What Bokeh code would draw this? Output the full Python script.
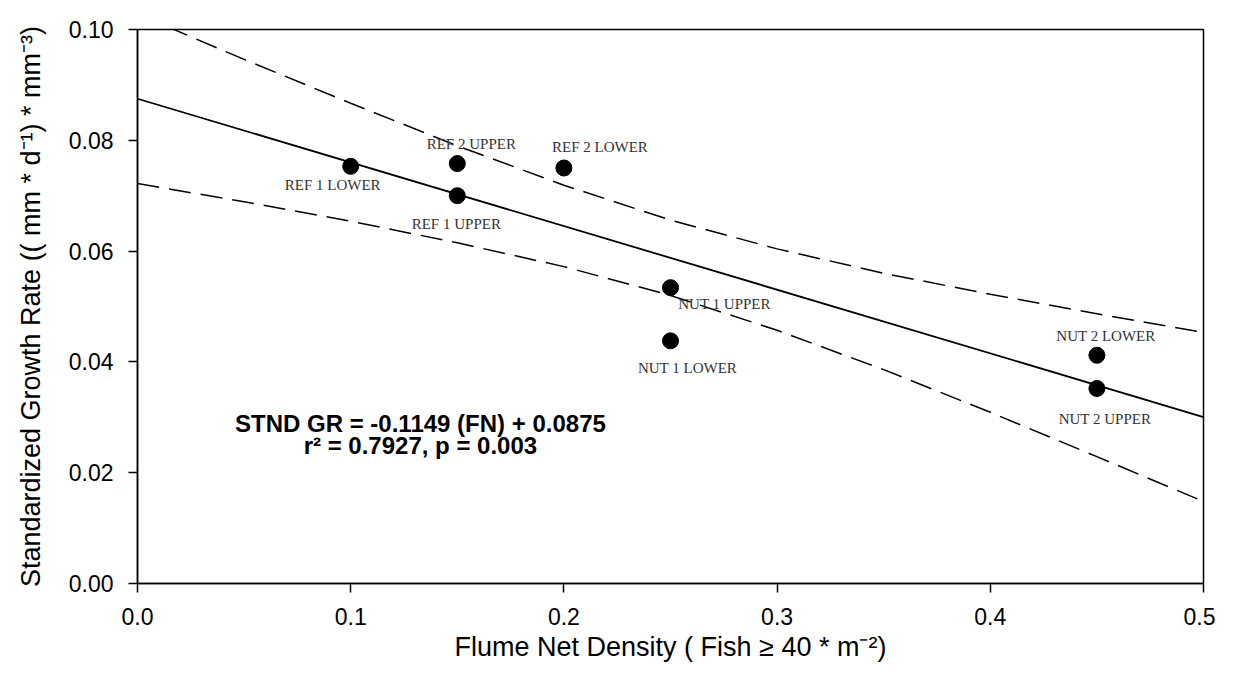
from bokeh.plotting import figure
from bokeh.models import ColumnDataSource, FixedTicker, NumeralTickFormatter
from bokeh.core.properties import value
from bokeh.embed import file_html
from bokeh.resources import INLINE

# ---- data ----
site_labels = ["REF 1 LOWER", "REF 2 UPPER", "REF 1 UPPER", "REF 2 LOWER",
               "NUT 1 UPPER", "NUT 1 LOWER", "NUT 2 LOWER", "NUT 2 UPPER"]
net_density = [0.10, 0.15, 0.15, 0.20, 0.25, 0.25, 0.45, 0.45]
growth_rate = [0.0753, 0.0758, 0.0700, 0.0750, 0.0534, 0.0438, 0.0412, 0.0352]

# regression (from the printed equation)
slope = -0.1149
intercept = 0.0875
fit_x = [0.0, 0.5]

# confidence band
band_x = [0.0, 0.05, 0.10, 0.15, 0.20, 0.25, 0.30, 0.35, 0.40, 0.45, 0.50]
band_upper = [0.1028, 0.0946, 0.0867, 0.0790, 0.0719, 0.0656, 0.0604, 0.0560, 0.0522, 0.0487, 0.0453]
band_lower = [0.0722, 0.0689, 0.0654, 0.0615, 0.0572, 0.0520, 0.0457, 0.0386, 0.0309, 0.0229, 0.0148]

x_ticks = [0.0, 0.1, 0.2, 0.3, 0.4, 0.5]
y_ticks = [0.00, 0.02, 0.04, 0.06, 0.08, 0.10]

equation_lines = ["STND GR = -0.1149 (FN) + 0.0875", "r\u00b2 = 0.7927, p = 0.003"]

# label placement (pixel offsets from each point)
label_dx = [-18, 14, -1, 36, 54, 17, 9, 8]
label_dy = [19, -20, 28, -21, 16, 27, -19, 31]

p = figure(width=1215, height=678, x_range=(0, 0.5), y_range=(0, 0.10),
           output_backend="svg", toolbar_location=None,
           min_border_left=137, min_border_right=12, min_border_top=29, min_border_bottom=95)
p.grid.visible = False
p.background_fill_color = "white"
p.border_fill_color = "white"
p.outline_line_color = "black"
p.outline_line_width = 1.5
p.outline_line_alpha = 1.0

for ax in (p.xaxis[0], p.yaxis[0]):
    ax.axis_line_width = 1.5
    ax.axis_line_color = "black"
    ax.major_tick_line_width = 1.5
    ax.major_tick_line_color = "black"
    ax.major_tick_out = 9
    ax.major_tick_in = 0
    ax.minor_tick_line_color = None
    ax.major_label_text_font = "Liberation Sans"
    ax.major_label_text_font_size = "23px"
    ax.major_label_text_color = "black"
    ax.axis_label_text_font = "Liberation Sans"
    ax.axis_label_text_font_size = "27px"
    ax.axis_label_text_font_style = "normal"
    ax.axis_label_text_color = "black"

p.xaxis.ticker = FixedTicker(ticks=x_ticks)
p.yaxis.ticker = FixedTicker(ticks=y_ticks)
p.xaxis.formatter = NumeralTickFormatter(format="0.0")
p.yaxis.formatter = NumeralTickFormatter(format="0.00")
p.xaxis.major_label_standoff = 15
p.yaxis.major_label_standoff = 15
p.xaxis.axis_label = "Flume Net Density ( Fish \u2265 40 * m\u207b\u00b2)"
p.yaxis.axis_label = "Standardized Growth Rate (( mm * d\u207b\u00b9) * mm\u207b\u00b3)"
p.xaxis.axis_label_standoff = 4
p.yaxis.axis_label_standoff = 20

# confidence bands
p.line(band_x, band_upper, line_color="black", line_width=1.5, line_dash="22 10")
p.line(band_x, band_lower, line_color="black", line_width=1.5, line_dash="22 10")

# regression line
fit_y = [intercept + slope * xv for xv in fit_x]
p.line(fit_x, fit_y, line_color="black", line_width=1.8)

src = ColumnDataSource(dict(x=net_density, y=growth_rate, label=site_labels,
                            dx=label_dx, dy=label_dy))
p.scatter("x", "y", source=src, size=16, fill_color="black", line_color="black")
p.text("x", "y", text="label", source=src, x_offset="dx", y_offset="dy",
       text_font=value("Liberation Serif"), text_font_size="15px",
       text_color="#333333", text_align="center", text_baseline="middle")

eq_src = ColumnDataSource(dict(x=[0.1327, 0.1327], y=[0.0289, 0.0249], t=equation_lines))
p.text("x", "y", text="t", source=eq_src, text_font=value("Liberation Sans"),
       text_font_size="24px", text_font_style="bold", text_color="black",
       text_align="center", text_baseline="middle")

open("out.html", "w").write(file_html(p, INLINE))
